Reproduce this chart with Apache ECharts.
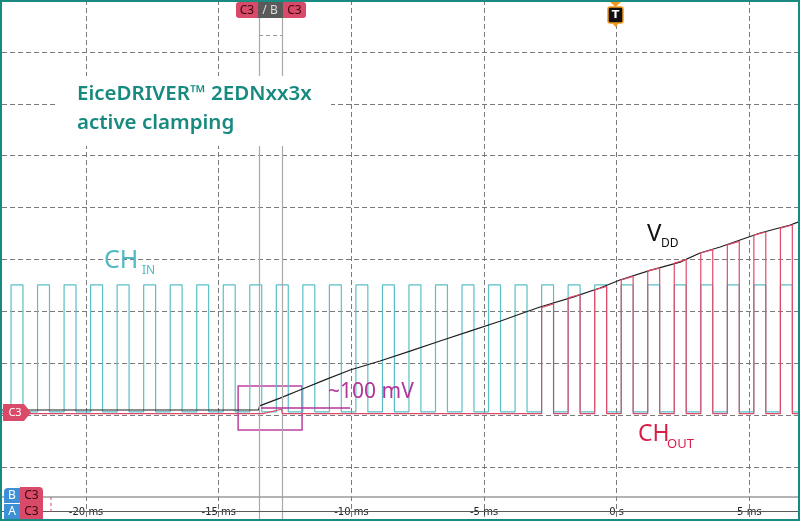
<!DOCTYPE html>
<html><head><meta charset="utf-8">
<script src="https://cdn.jsdelivr.net/npm/echarts@6/dist/echarts.min.js"></script>
<style>html,body{margin:0;padding:0;background:#fff}#c{width:800px;height:521px}</style>
</head><body><div id="c"></div>
<script>
// ---- axis ----
const xTickValues = [-20, -15, -10, -5, 0, 5];
const xTickLabels = ['-20 ms', '-15 ms', '-10 ms', '-5 ms', '0 s', '5 ms'];
const xRange = [-23.17, 6.834];   // ms, visible time window
const yRange = [-4, 16];          // V, 2 V/div

// ---- CH_IN (input square wave) ----
const inRise = [-22.83,-21.83,-20.83,-19.83,-18.83,-17.83,-16.83,-15.83,-14.83,-13.83,
                -12.83,-11.83,-10.83,-9.83,-8.83,-7.83,-6.83,-5.83,-4.83,-3.83,
                -2.83,-1.83,-0.83,0.17,1.17,2.17,3.17,4.17,5.17,6.17];
const inFall = [-22.38,-21.38,-20.38,-19.38,-18.38,-17.38,-16.38,-15.38,-14.38,-13.38,
                -12.38,-11.38,-10.38,-9.38,-8.38,-7.38,-6.38,-5.38,-4.38,-3.38,
                -2.38,-1.38,-0.38,0.62,1.62,2.62,3.62,4.62,5.62,6.62];
const inHigh = 5.02;
const inLow = 0.13;

// ---- CH_OUT (driver output) ----
const outLow = 0.06;
const outRise = [-2.83,-1.83,-0.83,0.17,1.17,2.17,3.17,4.17,5.17,6.17];
const outFall = [-2.38,-1.38,-0.38,0.62,1.62,2.62,3.62,4.62,5.62,6.62];
const outTopStart = [4.15,4.52,4.83,5.21,5.56,5.86,6.25,6.56,6.94,7.21];
const outTopEnd   = [4.29,4.65,4.96,5.35,5.68,6.00,6.38,6.70,7.06,7.33];
const clampT = [-13.33,-13.31,-12.64,-12.60];
const clampV = [0.06,0.11,0.23,0.06];

// ---- VDD ----
const vddT = [-23.17,-13.50,-13.46,-12.69,-11.94,-11.00,-10.05,-8.92,-7.79,-6.66,-5.53,-4.40,-3.64,-2.89,-1.65,-0.63,0.12,1.26,2.39,3.14,3.90,4.65,5.41,6.54,6.834];
const vddV = [0.20,0.20,0.36,0.66,0.97,1.36,1.74,2.09,2.47,2.86,3.24,3.62,3.90,4.17,4.55,4.90,5.21,5.58,5.90,6.25,6.48,6.75,7.02,7.33,7.44];

// ---- annotations / cursors ----
const cursorT = [-13.48, -12.61];
const clampBoxT = [-14.27, -11.86];
const clampBoxV = [1.125, -0.57];
const clampLineT = [-13.40, -10.05];
const clampLineV = 0.29;
const cursorDashV = 14.65;
const frameLineV = [-3.15, -3.71];

// ---- build series data ----
const inData = [[xRange[0], inLow]];
inRise.forEach((r, i) => { inData.push([r, inLow], [r, inHigh], [inFall[i], inHigh], [inFall[i], inLow]); });
inData.push([xRange[1], inLow]);

const outData = [[xRange[0], outLow]];
clampT.forEach((t, i) => outData.push([t, clampV[i]]));
outRise.forEach((r, i) => { outData.push([r, outLow], [r, outTopStart[i]], [outFall[i], outTopEnd[i]], [outFall[i], outLow]); });
outData.push([xRange[1], outLow]);

const vddData = vddT.map((t, i) => [t, vddV[i]]);

const TEAL = '#5bbfc7', RED = '#e04a6a', MAG = '#b3359a';
const gridDash = {color: '#7a7a7a', type: [5, 3], width: 1};

const chart = echarts.init(document.getElementById('c'), null, {renderer: 'canvas'});
const graphic = [
  // title box
  {type: 'rect', z: 50, shape: {x: 55, y: 76, width: 276, height: 70}, style: {fill: '#fff'}},
  {type: 'text', z: 51, x: 77, y: 94, style: {text: 'EiceDRIVER™ 2EDNxx3x', font: '600 20.5px "Noto Sans"', fill: '#178a80', verticalAlign: 'middle'}},
  {type: 'text', z: 51, x: 77, y: 123, style: {text: 'active clamping', font: '600 20.5px "Noto Sans"', fill: '#178a80', verticalAlign: 'middle'}},
  // trace labels
  {type: 'text', z: 51, x: 104, y: 261, style: {text: 'CH', font: '400 25px "Noto Sans"', fill: '#4fbac4', verticalAlign: 'middle'}},
  {type: 'text', z: 51, x: 142, y: 271, style: {text: 'IN', font: '400 12px "Noto Sans"', fill: '#4fbac4', verticalAlign: 'middle'}},
  {type: 'text', z: 51, x: 647, y: 234, style: {text: 'V', font: '400 24px "Noto Sans"', fill: '#111', verticalAlign: 'middle'}},
  {type: 'text', z: 51, x: 661, y: 244, style: {text: 'DD', font: '400 12px "Noto Sans"', fill: '#111', verticalAlign: 'middle'}},
  {type: 'text', z: 51, x: 638, y: 434, style: {text: 'CH', font: '400 23px "Noto Sans"', fill: '#d61f48', verticalAlign: 'middle'}},
  {type: 'text', z: 51, x: 667, y: 444, style: {text: 'OUT', font: '400 13px "Noto Sans"', fill: '#d61f48', verticalAlign: 'middle'}},
  {type: 'text', z: 51, x: 328, y: 392, style: {text: '~100 mV', font: '400 21px "Noto Sans"', fill: MAG, verticalAlign: 'middle'}},
  // top cursor markers
  {type: 'rect', z: 60, shape: {x: 236, y: 2, width: 22, height: 16, r: [3, 0, 0, 3]}, style: {fill: '#d94a68'}},
  {type: 'rect', z: 60, shape: {x: 258, y: 2, width: 25, height: 16}, style: {fill: '#5a5a5a'}},
  {type: 'rect', z: 60, shape: {x: 283, y: 2, width: 23, height: 16, r: [0, 3, 3, 0]}, style: {fill: '#d94a68'}},
  {type: 'text', z: 61, x: 247, y: 10.5, style: {text: 'C3', font: '12px "Noto Sans"', fill: '#3a0610', align: 'center', verticalAlign: 'middle'}},
  {type: 'text', z: 61, x: 270, y: 10.5, style: {text: '/ B', font: '12px "Noto Sans"', fill: '#ddd', align: 'center', verticalAlign: 'middle'}},
  {type: 'text', z: 61, x: 294.5, y: 10.5, style: {text: 'C3', font: '12px "Noto Sans"', fill: '#3a0610', align: 'center', verticalAlign: 'middle'}},
  // trigger marker
  {type: 'polygon', z: 60, shape: {points: [[609, 1], [622, 1], [615.5, 7]]}, style: {fill: '#f39a1e'}},
  {type: 'rect', z: 60, shape: {x: 608, y: 7, width: 15, height: 16, r: 2}, style: {fill: '#111', stroke: '#f39a1e', lineWidth: 1.5}},
  {type: 'polygon', z: 60, shape: {points: [[612, 23], [619, 23], [615.5, 27]]}, style: {fill: '#f39a1e'}},
  {type: 'text', z: 61, x: 615.5, y: 15.5, style: {text: 'T', font: 'bold 11px "DejaVu Sans"', fill: '#fff', align: 'center', verticalAlign: 'middle'}},
  // left C3 marker
  {type: 'polygon', z: 60, shape: {points: [[3, 404], [24, 404], [31, 412.5], [24, 421], [3, 421]]}, style: {fill: '#d94a68'}},
  {type: 'text', z: 61, x: 15, y: 413, style: {text: 'C3', font: '11px "Noto Sans"', fill: '#fff', align: 'center', verticalAlign: 'middle'}},
  // bottom-left channel markers
  {type: 'rect', z: 60, shape: {x: 20, y: 487, width: 23, height: 33, r: [0, 4, 0, 0]}, style: {fill: '#d94a68'}},
  {type: 'rect', z: 60, shape: {x: 4, y: 488, width: 16, height: 15, r: [4, 0, 0, 0]}, style: {fill: '#3d8fd6'}},
  {type: 'rect', z: 60, shape: {x: 4, y: 504, width: 16, height: 16}, style: {fill: '#3d8fd6'}},
  {type: 'text', z: 61, x: 12, y: 496, style: {text: 'B', font: '12px "Noto Sans"', fill: '#fff', align: 'center', verticalAlign: 'middle'}},
  {type: 'text', z: 61, x: 12, y: 512, style: {text: 'A', font: '12px "Noto Sans"', fill: '#fff', align: 'center', verticalAlign: 'middle'}},
  {type: 'text', z: 61, x: 31.5, y: 496, style: {text: 'C3', font: '12px "Noto Sans"', fill: '#3a0610', align: 'center', verticalAlign: 'middle'}},
  {type: 'text', z: 61, x: 31.5, y: 512, style: {text: 'C3', font: '12px "Noto Sans"', fill: '#3a0610', align: 'center', verticalAlign: 'middle'}},
  {type: 'line', z: 60, shape: {x1: 51, y1: 497, x2: 51, y2: 512}, style: {stroke: '#e04a6a', lineWidth: 1, lineDash: [3, 3]}},
  // frame
  {type: 'rect', z: 100, shape: {x: 1, y: 1, width: 798, height: 519}, style: {fill: null, stroke: '#1a8a80', lineWidth: 2}}
];

chart.setOption({
  animation: false,
  backgroundColor: '#fff',
  grid: {left: 2, right: 2, top: 0, bottom: 2},
  xAxis: {
    type: 'value', min: xRange[0], max: xRange[1], splitNumber: 6,
    axisLine: {show: false}, axisTick: {show: false},
    axisLabel: {
      inside: true, margin: 2, fontSize: 10, fontFamily: 'DejaVu Sans', color: '#222',
      showMinLabel: false, showMaxLabel: false,
      formatter: v => { const i = xTickValues.findIndex(t => Math.abs(t - v) < 1e-6); return i >= 0 ? xTickLabels[i] : ''; }
    },
    splitLine: {show: true, showMinLine: false, showMaxLine: false, lineStyle: gridDash}
  },
  yAxis: {
    type: 'value', min: yRange[0], max: yRange[1], interval: 2,
    axisLine: {show: false}, axisTick: {show: false}, axisLabel: {show: false},
    splitLine: {show: true, showMinLine: false, showMaxLine: false, lineStyle: gridDash}
  },
  graphic: graphic,
  series: [
    {name: 'CH_IN', type: 'line', data: inData, symbol: 'none', silent: true, z: 3,
     lineStyle: {color: TEAL, width: 1.2}},
    {name: 'VDD', type: 'line', data: vddData, symbol: 'none', silent: true, z: 4,
     lineStyle: {color: '#1e1e1e', width: 1.2},
     markLine: {
       silent: true, symbol: 'none', label: {show: false}, emphasis: {disabled: true},
       data: [
         {xAxis: cursorT[0], lineStyle: {color: '#a9a9a9', type: 'solid', width: 1.2}},
         {xAxis: cursorT[1], lineStyle: {color: '#a9a9a9', type: 'solid', width: 1.2}},
         {yAxis: frameLineV[0], lineStyle: {color: '#9a9a9a', type: 'solid', width: 1.5}},
         {yAxis: frameLineV[1], lineStyle: {color: '#5a5a5a', type: 'solid', width: 1}},
         [{coord: [cursorT[0], cursorDashV], lineStyle: {color: '#999', type: [4, 3], width: 1}}, {coord: [cursorT[1], cursorDashV]}],
         [{coord: [clampLineT[0], clampLineV], lineStyle: {color: MAG, type: 'solid', width: 1.5}}, {coord: [clampLineT[1], clampLineV]}]
       ]
     },
     markArea: {
       silent: true, emphasis: {disabled: true},
       itemStyle: {color: 'rgba(0,0,0,0)', borderColor: '#c0409e', borderWidth: 1.5},
       data: [[{coord: [clampBoxT[0], clampBoxV[0]]}, {coord: [clampBoxT[1], clampBoxV[1]]}]]
     }},
    {name: 'CH_OUT', type: 'line', data: outData, symbol: 'none', silent: true, z: 5,
     lineStyle: {color: RED, width: 1.2}}
  ]
});
</script></body></html>
